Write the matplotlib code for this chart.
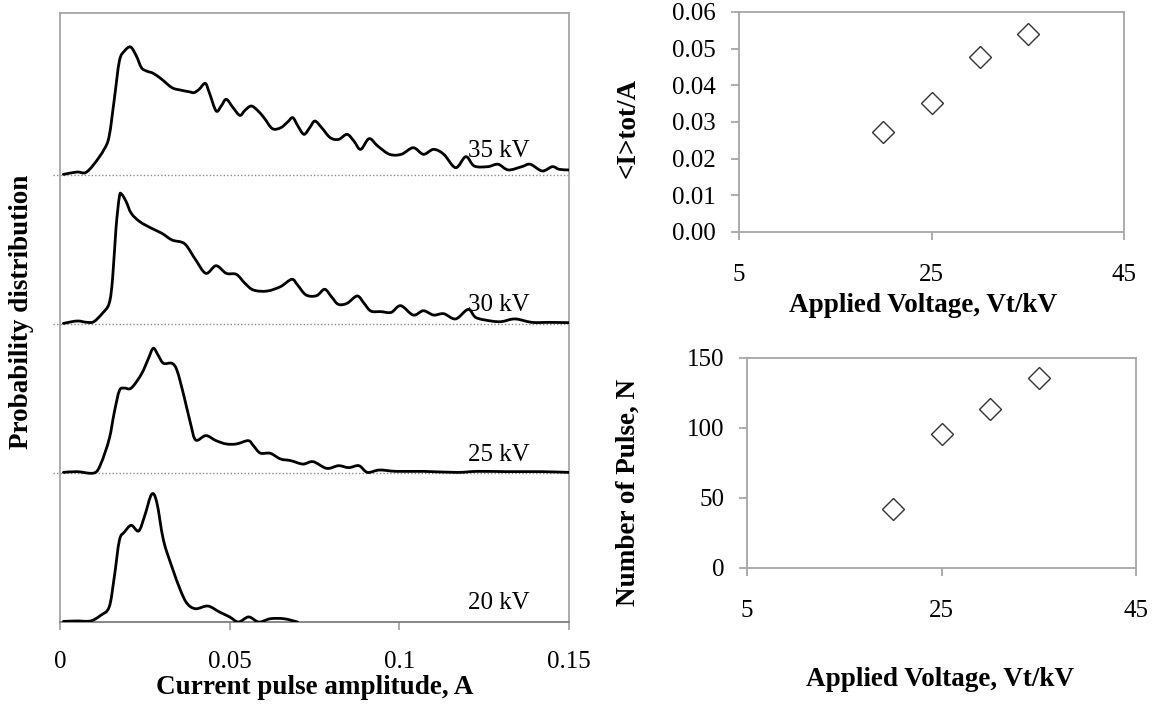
import matplotlib
matplotlib.use("Agg")
import matplotlib.pyplot as plt
from matplotlib.path import Path
from matplotlib.patches import PathPatch
from matplotlib.ticker import FormatStrFormatter
import numpy as np

plt.rcParams['font.family'] = ['Liberation Serif', 'DejaVu Serif']

# ---------------- data ----------------
# current pulse amplitude distributions (A, relative probability per strip)
kv35_x = [0.0010, 0.0050, 0.0075, 0.0100, 0.0130, 0.0145, 0.0160, 0.0175, 0.0190, 0.0208,
          0.0225, 0.0240, 0.0255, 0.0275, 0.0300, 0.0330, 0.0355, 0.0380, 0.0395, 0.0410,
          0.0428, 0.0440, 0.0460, 0.0475, 0.0490, 0.0510, 0.0530, 0.0545, 0.0563, 0.0581,
          0.0601, 0.0626, 0.0651, 0.0671, 0.0686, 0.0701, 0.0719, 0.0736, 0.0751, 0.0771,
          0.0796, 0.0821, 0.0846, 0.0866, 0.0886, 0.0911, 0.0936, 0.0971, 0.1006, 0.1041,
          0.1071, 0.1101, 0.1131, 0.1166, 0.1196, 0.1221, 0.1261, 0.1291, 0.1321, 0.1361,
          0.1386, 0.1421, 0.1451, 0.1471, 0.1500]
kv35_y = [0.004, 0.020, 0.016, 0.072, 0.172, 0.262, 0.508, 0.765, 0.832, 0.859,
          0.799, 0.720, 0.698, 0.682, 0.642, 0.586, 0.570, 0.559, 0.553, 0.575,
          0.615, 0.553, 0.430, 0.463, 0.508, 0.452, 0.400, 0.434, 0.463, 0.436,
          0.385, 0.311, 0.318, 0.356, 0.385, 0.329, 0.273, 0.318, 0.362, 0.318,
          0.251, 0.239, 0.273, 0.228, 0.172, 0.244, 0.195, 0.139, 0.139, 0.183,
          0.139, 0.172, 0.139, 0.049, 0.123, 0.060, 0.056, 0.072, 0.034, 0.056,
          0.072, 0.027, 0.056, 0.038, 0.034]

kv30_x = [0.0010, 0.0050, 0.0080, 0.0100, 0.0125, 0.0145, 0.0155, 0.0165, 0.0175, 0.0182,
          0.0195, 0.0210, 0.0235, 0.0270, 0.0300, 0.0330, 0.0360, 0.0375, 0.0400, 0.0430,
          0.0460, 0.0490, 0.0520, 0.0545, 0.0570, 0.0610, 0.0650, 0.0683, 0.0700, 0.0725,
          0.0756, 0.0780, 0.0800, 0.0820, 0.0846, 0.0876, 0.0896, 0.0916, 0.0946, 0.0976,
          0.1004, 0.1041, 0.1071, 0.1101, 0.1131, 0.1166, 0.1203, 0.1226, 0.1271, 0.1301,
          0.1341, 0.1391, 0.1441, 0.1500]
kv30_y = [0.004, 0.020, 0.011, 0.016, 0.072, 0.139, 0.306, 0.642, 0.855, 0.870,
          0.821, 0.743, 0.687, 0.642, 0.609, 0.564, 0.548, 0.519, 0.430, 0.340,
          0.391, 0.340, 0.333, 0.273, 0.228, 0.221, 0.251, 0.300, 0.262, 0.195,
          0.190, 0.233, 0.183, 0.132, 0.139, 0.188, 0.139, 0.087, 0.083, 0.078,
          0.123, 0.060, 0.089, 0.060, 0.069, 0.034, 0.098, 0.043, 0.020, 0.016,
          0.034, 0.011, 0.011, 0.009]

kv25_x = [0.0010, 0.0050, 0.0100, 0.0120, 0.0145, 0.0160, 0.0175, 0.0190, 0.0210, 0.0240,
          0.0260, 0.0275, 0.0290, 0.0305, 0.0330, 0.0345, 0.0365, 0.0385, 0.0400, 0.0430,
          0.0460, 0.0490, 0.0520, 0.0555, 0.0570, 0.0590, 0.0620, 0.0650, 0.0680, 0.0716,
          0.0746, 0.0786, 0.0821, 0.0851, 0.0881, 0.0906, 0.0941, 0.0991, 0.1070, 0.1170,
          0.1230, 0.1320, 0.1420, 0.1500]
kv25_y = [0.004, 0.009, 0.000, 0.060, 0.228, 0.407, 0.553, 0.570, 0.570, 0.664,
          0.765, 0.837, 0.787, 0.736, 0.736, 0.687, 0.519, 0.329, 0.221, 0.251,
          0.217, 0.195, 0.195, 0.217, 0.183, 0.134, 0.132, 0.094, 0.083, 0.060,
          0.076, 0.031, 0.049, 0.036, 0.049, 0.004, 0.020, 0.011, 0.011, 0.004,
          0.011, 0.009, 0.009, 0.004]

kv20_x = [0.0010, 0.0050, 0.0090, 0.0120, 0.0145, 0.0160, 0.0175, 0.0190, 0.0210, 0.0232,
          0.0250, 0.0270, 0.0285, 0.0305, 0.0330, 0.0355, 0.0375, 0.0400, 0.0436, 0.0470,
          0.0500, 0.0526, 0.0556, 0.0586, 0.0620, 0.0660, 0.0700]
kv20_y = [0.004, 0.007, 0.007, 0.045, 0.101, 0.302, 0.548, 0.604, 0.649, 0.611,
          0.716, 0.857, 0.805, 0.548, 0.369, 0.213, 0.123, 0.089, 0.107, 0.067,
          0.034, 0.000, 0.034, 0.000, 0.022, 0.022, 0.000]

dist_labels = ["35 kV", "30 kV", "25 kV", "20 kV"]
amp_ticks = [0, 0.05, 0.1, 0.15]
amp_tick_labels = ["0", "0.05", "0.1", "0.15"]

# mean current and pulse count versus applied voltage
voltage = [20, 25, 30, 35]
mean_current = [0.0273, 0.0353, 0.0476, 0.0539]
pulse_count = [42, 96, 113.5, 136]
volt_ticks = [5, 25, 45]

# ---------------- layout helpers ----------------
W, H = 1165, 706
fig = plt.figure(figsize=(W / 100, H / 100), dpi=100)

FRAME = '#A6A6A6'
TICK_FS = 18
LABEL_FS = 19.5


def px_axes(x0, y0, x1, y1):
    """Axes from a pixel box given as left, top, right, bottom."""
    return fig.add_axes([x0 / W, 1 - y1 / H, (x1 - x0) / W, (y1 - y0) / H])


def smooth_path(xs, ys, t=1 / 6):
    """Cubic Bezier path through the points (Catmull-Rom style controls)."""
    pts = np.column_stack([xs, ys]).astype(float)
    n = len(pts)
    verts = [pts[0]]
    codes = [Path.MOVETO]
    for i in range(n - 1):
        p0 = pts[i - 1] if i > 0 else pts[i]
        p1 = pts[i]
        p2 = pts[i + 1]
        p3 = pts[i + 2] if i + 2 < n else pts[i + 1]
        verts += [p1 + (p2 - p0) * t, p2 - (p3 - p1) * t, p2]
        codes += [Path.CURVE4] * 3
    return Path(verts, codes)


def style_frame(ax):
    for s in ax.spines.values():
        s.set_color(FRAME)
        s.set_linewidth(1.3)
    ax.tick_params(color=FRAME, width=1.3, length=6, direction='out',
                   labelsize=TICK_FS, colors='black')
    ax.tick_params(axis='both', which='both', color=FRAME)


# ---------------- left: stacked distributions ----------------
strip_px = 149
ax = px_axes(60, 13, 569, 622)
ax.set_xlim(0, 0.15)
ax.set_ylim(0, 609 / strip_px)
style_frame(ax)
ax.spines['bottom'].set_color('#7F7F7F')
ax.set_yticks([])
ax.set_xticks(amp_ticks)
ax.set_xticklabels(amp_tick_labels)
ax.tick_params(axis='x', pad=15)

series = [(kv35_x, kv35_y), (kv30_x, kv30_y), (kv25_x, kv25_y), (kv20_x, kv20_y)]
offsets = [3, 2, 1, 0]
label_dy = [0.16, 0.13, 0.12, 0.13]
for (xs, ys), off, lab, dy in zip(series, offsets, dist_labels, label_dy):
    if off > 0:
        ax.plot([-0.002, 0.15], [off, off], ls=(0, (1, 1.5)), color='#8C8C8C',
                lw=1.0, clip_on=False, zorder=1)
    yy = np.asarray(ys) + off
    ax.add_patch(PathPatch(smooth_path(xs, yy), facecolor='none', edgecolor='black',
                           lw=2.0, capstyle='round', joinstyle='round', zorder=3))
    ax.text(0.1385, off + dy, lab, ha='right', va='center', fontsize=18)

fig.text(315 / W, 1 - 688 / H, "Current pulse amplitude, A", ha='center', va='center',
         fontsize=LABEL_FS, fontweight='bold')
fig.text(22 / W, 1 - 312 / H, "Probability distribution", ha='center', va='center',
         rotation=90, fontsize=LABEL_FS, fontweight='bold')

# ---------------- top right: mean current ----------------
ax1 = px_axes(739, 12, 1124, 232)
ax1.set_xlim(5, 45)
ax1.set_ylim(0, 0.06)
style_frame(ax1)
ax1.set_xticks(volt_ticks)
ax1.set_yticks(np.arange(0, 0.061, 0.01))
ax1.yaxis.set_major_formatter(FormatStrFormatter('%.2f'))
ax1.tick_params(axis='x', pad=17)
ax1.tick_params(axis='y', pad=11)
ax1.plot(voltage, mean_current, ls='none', marker='D', markersize=11,
         markerfacecolor='white', markeredgecolor='#333333', markeredgewidth=1.0)
fig.text(628 / W, 1 - 128 / H, "<I>tot/A", ha='center', va='center', rotation=90,
         fontsize=LABEL_FS, fontweight='bold')
fig.text(923 / W, 1 - 305 / H, "Applied Voltage, Vt/kV", ha='center', va='center',
         fontsize=LABEL_FS, fontweight='bold')

# ---------------- bottom right: pulse count ----------------
ax2 = px_axes(747, 358, 1136, 568)
ax2.set_xlim(5, 45)
ax2.set_ylim(0, 150)
style_frame(ax2)
ax2.set_xticks(volt_ticks)
ax2.set_yticks([0, 50, 100, 150])
ax2.tick_params(axis='x', pad=17)
ax2.tick_params(axis='y', pad=10)
ax2.plot(voltage, pulse_count, ls='none', marker='D', markersize=11,
         markerfacecolor='white', markeredgecolor='#333333', markeredgewidth=1.0)
fig.text(628 / W, 1 - 492 / H, "Number of Pulse, N", ha='center', va='center',
         rotation=90, fontsize=LABEL_FS, fontweight='bold')
fig.text(940 / W, 1 - 679 / H, "Applied Voltage, Vt/kV", ha='center', va='center',
         fontsize=LABEL_FS, fontweight='bold')

fig.savefig("out.png", dpi=100)
